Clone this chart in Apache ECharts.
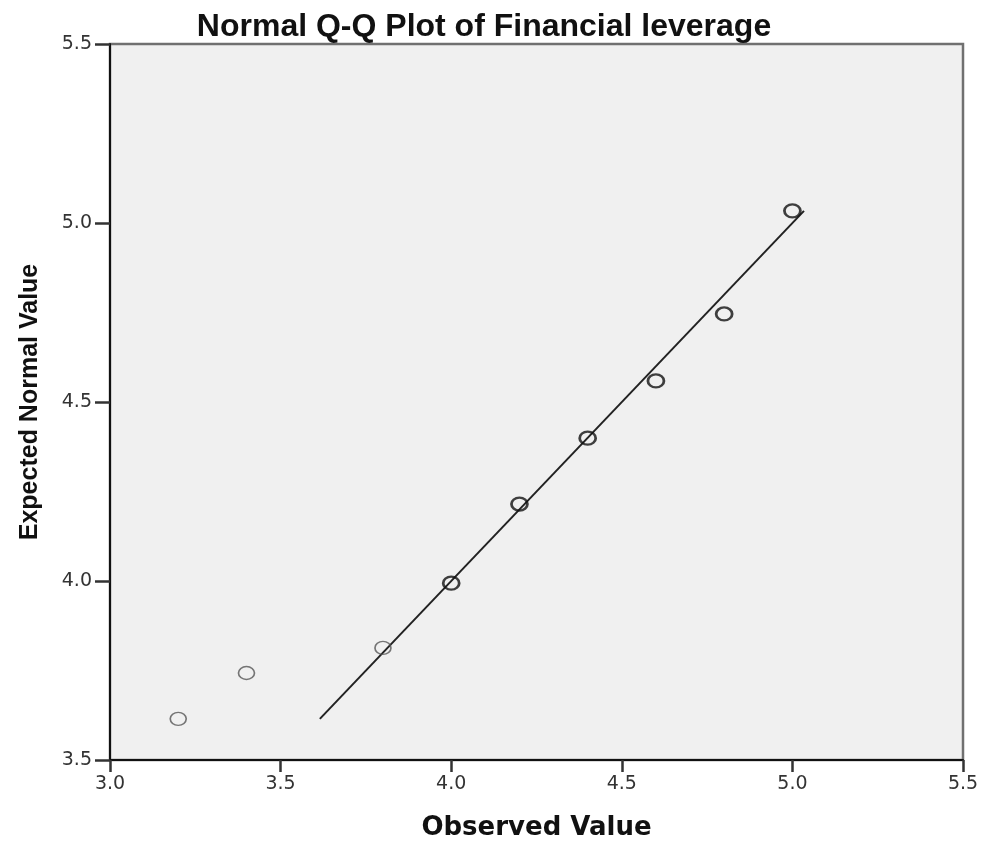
<!DOCTYPE html>
<html>
<head>
<meta charset="utf-8">
<script src="https://cdn.jsdelivr.net/npm/echarts@6/dist/echarts.min.js"></script>
<style>
  html, body { margin: 0; padding: 0; background: #fff; }
  #qq { width: 985px; height: 843px; }
</style>
</head>
<body>
<div id="qq"></div>
<script>
const observed = [3.2, 3.4, 3.8, 4.0, 4.2, 4.4, 4.6, 4.8, 5.0];
const expected = [3.615, 3.743, 3.813, 3.994, 4.215, 4.399, 4.559, 4.746, 5.034];
const refLine = [[3.615, 3.615], [5.034, 5.034]];

const chart = echarts.init(document.getElementById("qq"));

// first three points are drawn lighter in the original
const points = observed.map((x, i) => ({
  value: [x, expected[i]],
  itemStyle: i < 3
    ? { borderColor: "#555", borderWidth: 1.5 }
    : { borderColor: "#111", borderWidth: 2.5 },
}));

const option = {
  animation: false,
  backgroundColor: "#fff",
  title: {
    text: "Normal Q-Q Plot of Financial leverage",
    left: 479,
    textAlign: "center",
    top: 6,
    textStyle: { fontFamily: "Liberation Sans", fontWeight: "bold", fontSize: 32, color: "#111" },
  },
  grid: {
    left: 110,
    right: 22,
    top: 44,
    bottom: 83,
    outerBoundsMode: "none",
    containLabel: false,
    show: true,
    backgroundColor: "#f0f0f0",
    borderColor: "#707070",
    borderWidth: 2.5,
  },
  xAxis: {
    type: "value",
    min: 3.0,
    max: 5.5,
    interval: 0.5,
    name: "Observed Value",
    nameLocation: "middle",
    nameGap: 55,
    nameTextStyle: { fontFamily: "DejaVu Sans", fontWeight: "bold", fontSize: 26, color: "#111" },
    axisLine: { lineStyle: { color: "#111", width: 2 } },
    axisTick: { length: 12, lineStyle: { color: "#333", width: 2.5 } },
    axisLabel: { margin: 15, fontFamily: "DejaVu Sans", fontSize: 19, color: "#333", formatter: v => v.toFixed(1) },
    splitLine: { show: false },
  },
  yAxis: {
    type: "value",
    min: 3.5,
    max: 5.5,
    interval: 0.5,
    name: "Expected Normal Value",
    nameLocation: "middle",
    nameGap: 67,
    nameTextStyle: { fontFamily: "Liberation Sans", fontWeight: "bold", fontSize: 25, color: "#111" },
    axisLine: { lineStyle: { color: "#111", width: 2 } },
    axisTick: { length: 15, lineStyle: { color: "#333", width: 2.5 } },
    axisLabel: { margin: 18, fontFamily: "DejaVu Sans", fontSize: 19, color: "#333", formatter: v => v.toFixed(1) },
    splitLine: { show: false },
  },
  series: [
    {
      type: "line",
      data: refLine,
      symbol: "none",
      lineStyle: { color: "#222", width: 2 },
      z: 2,
    },
    {
      type: "scatter",
      data: points,
      symbol: "circle",
      symbolSize: [16, 13],
      itemStyle: { color: "rgba(0,0,0,0)" },
      z: 3,
    },
  ],
};

chart.setOption(option);
</script>
</body>
</html>
